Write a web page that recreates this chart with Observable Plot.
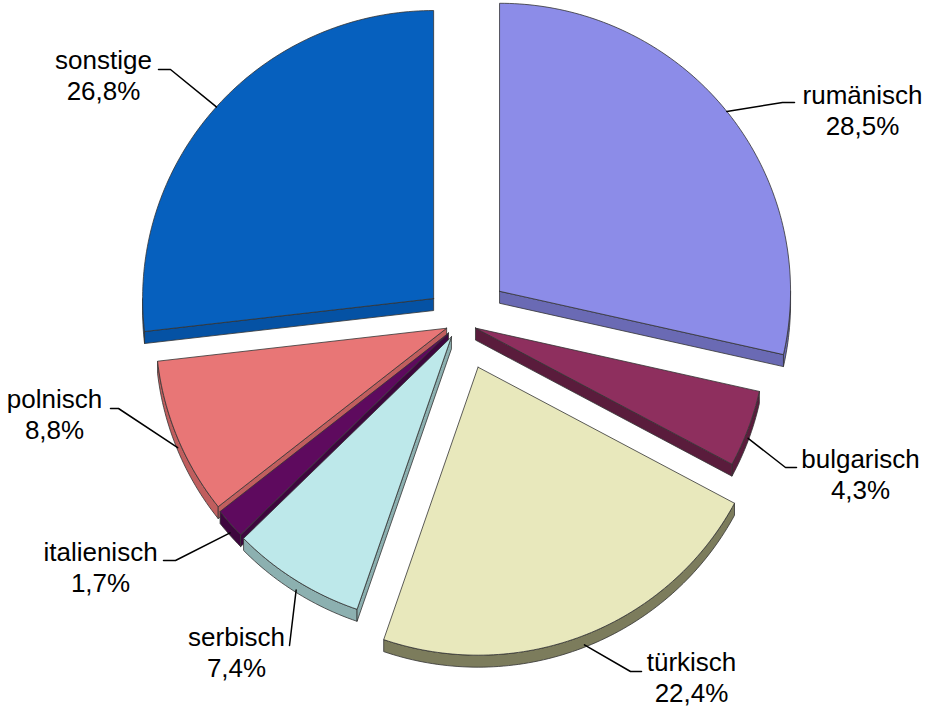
<!DOCTYPE html>
<html><head><meta charset="utf-8">
<script src="https://cdn.jsdelivr.net/npm/d3@7"></script>
<script src="https://cdn.jsdelivr.net/npm/@observablehq/plot@0.6"></script>
<style>body{margin:0;background:#fff} #chart{width:932px;height:707px}</style>
</head><body><div id="chart"></div>
<script>
// ---- data ----
const categories = ["rumänisch","bulgarisch","türkisch","serbisch","italienisch","polnisch","sonstige"];
const shares = [28.5, 4.3, 22.4, 7.4, 1.7, 8.8, 26.8];
const shareLabels = ["28,5%","4,3%","22,4%","7,4%","1,7%","8,8%","26,8%"];
const topColors  = ["#8c8ce8","#8e2f5e","#e8e8bc","#bde8ea","#5e0a5e","#e87676","#0660be"];
const sideColors = ["#6a6ab4","#5a1c3c","#7c7c5c","#8cb0b0","#3e063e","#c05e5e","#0552a4"];

// ---- layout ----
const W = 932, H = 707, CX = 460, CY = 322, RX = 291, RY = 288, DEPTH = 12;
const explode = [50, 16, 48, 17, 16, 15, 36];
const labelPos = [[862,103],[860,467],[691,670],[236,645],[100,560],[54,407],[103,68]];
const elbows = [[782,102,794],[785,467,796],[630,671,641],[289,645,289],[175,560,163],[118,408,110],[170,69,158]];

const arcs = d3.pie().sort(null).value(d => d)(shares);
const polys = [];
let pid = 0;
function addPoly(pts, fill, stroke) {
  const id = pid++;
  pts.forEach(([x, y]) => polys.push({id, x, y, fill, stroke}));
  polys.push({id, x: pts[0][0], y: pts[0][1], fill, stroke});
}
const slices = arcs.map((a, i) => {
  const mid = (a.startAngle + a.endAngle) / 2;
  const ox = CX + explode[i] * Math.sin(mid);
  const oy = CY - explode[i] * Math.cos(mid);
  return {i, s: a.startAngle, e: a.endAngle, mid, ox, oy};
});
const P = (sl, ang, dy = 0) => [sl.ox + RX * Math.sin(ang), sl.oy - RY * Math.cos(ang) + dy];
function arcPts(sl, a0, a1, dy = 0) {
  const n = Math.max(2, Math.ceil((a1 - a0) / (Math.PI / 180)));
  return d3.range(n + 1).map(k => P(sl, a0 + (a1 - a0) * k / n, dy));
}
// painter's order: upper slices first
const drawOrder = slices.slice().sort((a, b) => (a.oy - RY * 0.5 * Math.cos(a.mid)) - (b.oy - RY * 0.5 * Math.cos(b.mid)));
drawOrder.forEach(sl => {
  const i = sl.i, top = topColors[i], side = sideColors[i];
  const O = [sl.ox, sl.oy], Od = [sl.ox, sl.oy + DEPTH];
  const w0 = Math.max(sl.s, Math.PI / 2), w1 = Math.min(sl.e, 3 * Math.PI / 2);
  if (w1 > w0) {
    const up = arcPts(sl, w0, w1), dn = arcPts(sl, w0, w1, DEPTH).reverse();
    addPoly(up.concat(dn), side, "#333");
  }
  if (Math.sin(sl.s) < -1e-6) addPoly([O, P(sl, sl.s), P(sl, sl.s, DEPTH), Od], side, "#333");
  if (Math.sin(sl.e) > 1e-6) addPoly([O, P(sl, sl.e), P(sl, sl.e, DEPTH), Od], side, "#333");
  addPoly([O].concat(arcPts(sl, sl.s, sl.e)), top, "#333");
});

// leader lines
const leaders = [];
slices.forEach(sl => {
  const lower = Math.cos(sl.mid) < 0;
  const [ax, ay] = P(sl, sl.mid, lower ? DEPTH * 0.8 : 0);
  const [ex, ey, tx] = elbows[sl.i];
  [[ax, ay], [ex, ey], [tx, ey]].forEach(([x, y]) => leaders.push({id: sl.i, x, y}));
});
const labels = categories.map((c, i) => ({name: c, pct: shareLabels[i], x: labelPos[i][0], y: labelPos[i][1]}));

const font = "'Liberation Sans', Arial, Helvetica, sans-serif";
const chart = Plot.plot({
  width: W, height: H, margin: 0,
  x: {domain: [0, W], range: [0, W], axis: null},
  y: {domain: [0, H], range: [0, H], axis: null},
  color: {type: "identity"},
  style: {background: "#fff", fontFamily: font},
  marks: [
    Plot.line(polys, {x: "x", y: "y", z: "id", fill: "fill", stroke: "stroke", strokeWidth: 0.8, strokeLinejoin: "round", curve: "linear"}),
    Plot.line(leaders, {x: "x", y: "y", z: "id", stroke: "#000", strokeWidth: 1.5}),
    Plot.text(labels, {x: "x", y: "y", text: "name", fontSize: 26, textAnchor: "middle", lineAnchor: "bottom", fill: "#000", fontFamily: font}),
    Plot.text(labels, {x: "x", y: d => d.y + 31, text: "pct", fontSize: 26, textAnchor: "middle", lineAnchor: "bottom", fill: "#000", fontFamily: font})
  ]
});
document.getElementById("chart").appendChild(chart);
</script>
</body></html>
